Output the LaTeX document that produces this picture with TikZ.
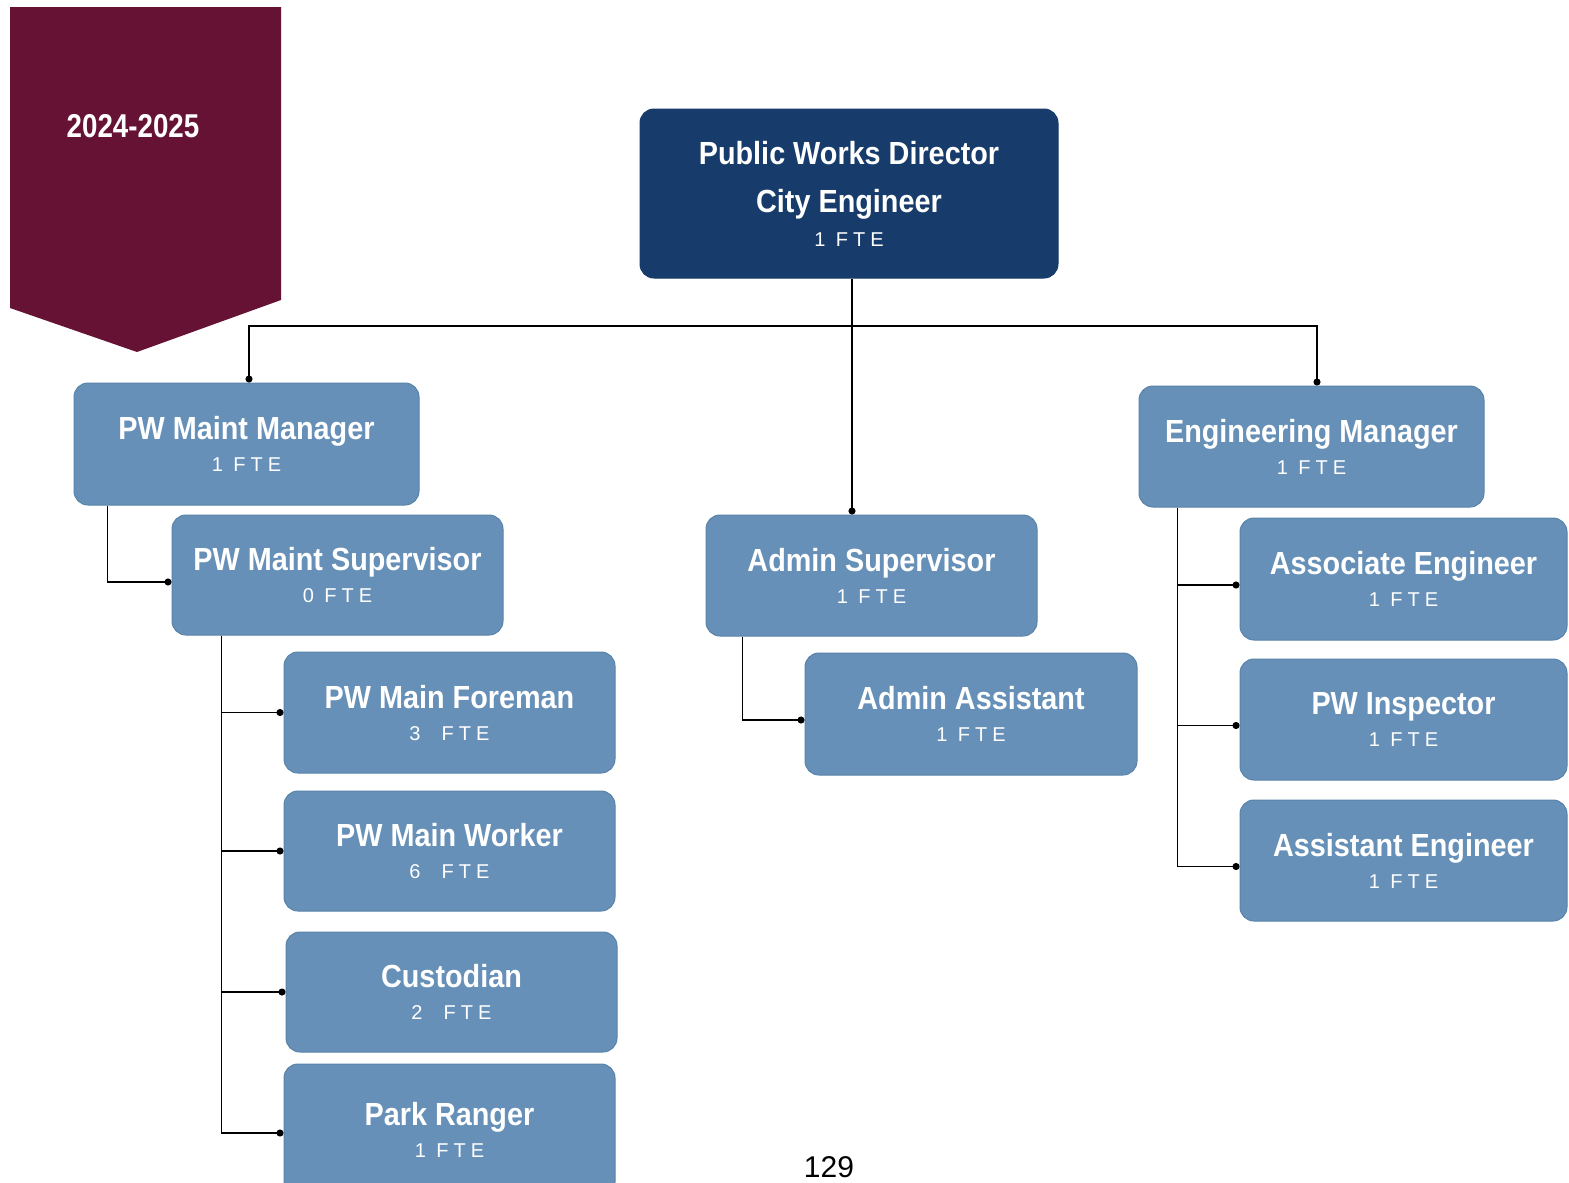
\documentclass[tikz,border=0pt]{standalone}
\usepackage{fontspec}
\setmainfont{Liberation Sans}
\newfontfamily\titlefont[FakeStretch=0.9]{Liberation Sans Bold}
\newfontfamily\yearfont[FakeStretch=0.84]{Liberation Sans Bold}
\newfontfamily\ftefont[LetterSpace=25]{Liberation Sans}
\usetikzlibrary{arrows.meta,calc}

\definecolor{banner}{HTML}{661234}
\definecolor{navy}{HTML}{173C6B}
\definecolor{steel}{HTML}{6690B7}
\definecolor{steeledge}{HTML}{5A83AA}

\newcommand{\ttl}[1]{{\titlefont\fontsize{32}{36}\selectfont #1}}
\newcommand{\fte}[1]{{\ftefont\fontsize{20}{22}\selectfont #1}}

\tikzset{
  box/.style={draw=steeledge, line width=1pt, fill=steel, rounded corners=14pt,
    text=white, align=center, inner sep=0pt, font=\fontsize{20}{32}\selectfont},
  topbox/.style={box, draw=navy, fill=navy, font=\fontsize{20}{34}\selectfont},
  link/.style={line width=1.7pt, -{Circle[length=7pt]}},
}

\begin{document}
\begin{tikzpicture}[x=1pt, y=-1pt]
  \useasboundingbox (0,0) rectangle (1569,1183);
  \fill[white] (0,0) rectangle (1569,1183);

  % year banner
  \fill[banner] (10,7) -- (281,7) -- (281,300) -- (137,352) -- (10,308) -- cycle;
  \node[text=white] (year) at (133,126) {\yearfont\fontsize{33}{36}\selectfont 2024-2025};

  % director
  \node[topbox, minimum width=418pt, minimum height=169pt] (dir) at (849,193.5)
    {\ttl{Public Works Director}\\[14pt]\ttl{City Engineer}\\\fte{1 FTE}};

  % maintenance branch
  \node[box, minimum width=345pt, minimum height=122pt] (mgr) at (246.5,444)
    {\ttl{PW Maint Manager}\\\fte{1 FTE}};
  \node[box, minimum width=331pt, minimum height=120pt] (sup) at (337.5,575)
    {\ttl{PW Maint Supervisor}\\\fte{0 FTE}};
  \node[box, minimum width=331pt, minimum height=121pt] (fore) at (449.5,712.5)
    {\ttl{PW Main Foreman}\\\fte{3\ \ FTE}};
  \node[box, minimum width=331pt, minimum height=120pt] (work) at (449.5,851)
    {\ttl{PW Main Worker}\\\fte{6\ \ FTE}};
  \node[box, minimum width=331pt, minimum height=120pt] (cust) at (451.5,992)
    {\ttl{Custodian}\\\fte{2\ \ FTE}};
  \node[box, minimum width=331pt, minimum height=132pt] (rang) at (449.5,1130)
    {\ttl{Park Ranger}\\\fte{1 FTE}};

  % admin branch
  \node[box, minimum width=331pt, minimum height=121pt] (adsup) at (871.5,575.5)
    {\ttl{Admin Supervisor}\\\fte{1 FTE}};
  \node[box, minimum width=332pt, minimum height=122pt] (adast) at (971,714)
    {\ttl{Admin Assistant}\\\fte{1 FTE}};

  % engineering branch
  \node[box, minimum width=345pt, minimum height=121pt] (engm) at (1311.5,446.5)
    {\ttl{Engineering Manager}\\\fte{1 FTE}};
  \node[box, minimum width=327pt, minimum height=122pt] (asoc) at (1403.5,579)
    {\ttl{Associate Engineer}\\\fte{1 FTE}};
  \node[box, minimum width=327pt, minimum height=121pt] (insp) at (1403.5,719.5)
    {\ttl{PW Inspector}\\\fte{1 FTE}};
  \node[box, minimum width=327pt, minimum height=121pt] (aeng) at (1403.5,860.5)
    {\ttl{Assistant Engineer}\\\fte{1 FTE}};

  % page number
  \node[anchor=base, inner sep=0pt] (pg) at (829,1177) {\fontsize{30}{34}\selectfont 129};

  % connectors
  \coordinate (bus) at (852,326);
  \draw[link] ($(dir.south)+(3,0)$) -- (bus |- adsup.north);
  \draw[link] (bus) -| ($(mgr.north)+(2.5,0)$);
  \draw[link] (bus) -| ($(engm.north)+(5.5,0)$);

  \draw[link] ($(mgr.south west)+(34,0)$) |- ($(sup.west)+(0,7)$);
  \draw[link] ($(sup.south west)+(50,0)$) |- (fore.west);
  \draw[link] ($(sup.south west)+(50,0)$) |- (work.west);
  \draw[link] ($(sup.south west)+(50,0)$) |- (cust.west);
  \draw[link] ($(sup.south west)+(50,0)$) |- ($(rang.west)+(0,3)$);

  \draw[link] ($(adsup.south west)+(37,0)$) |- ($(adast.west)+(0,6)$);

  \draw[link] ($(engm.south west)+(39,0)$) |- ($(asoc.west)+(0,6)$);
  \draw[link] ($(engm.south west)+(39,0)$) |- ($(insp.west)+(0,6)$);
  \draw[link] ($(engm.south west)+(39,0)$) |- ($(aeng.west)+(0,6)$);
\end{tikzpicture}
\end{document}
